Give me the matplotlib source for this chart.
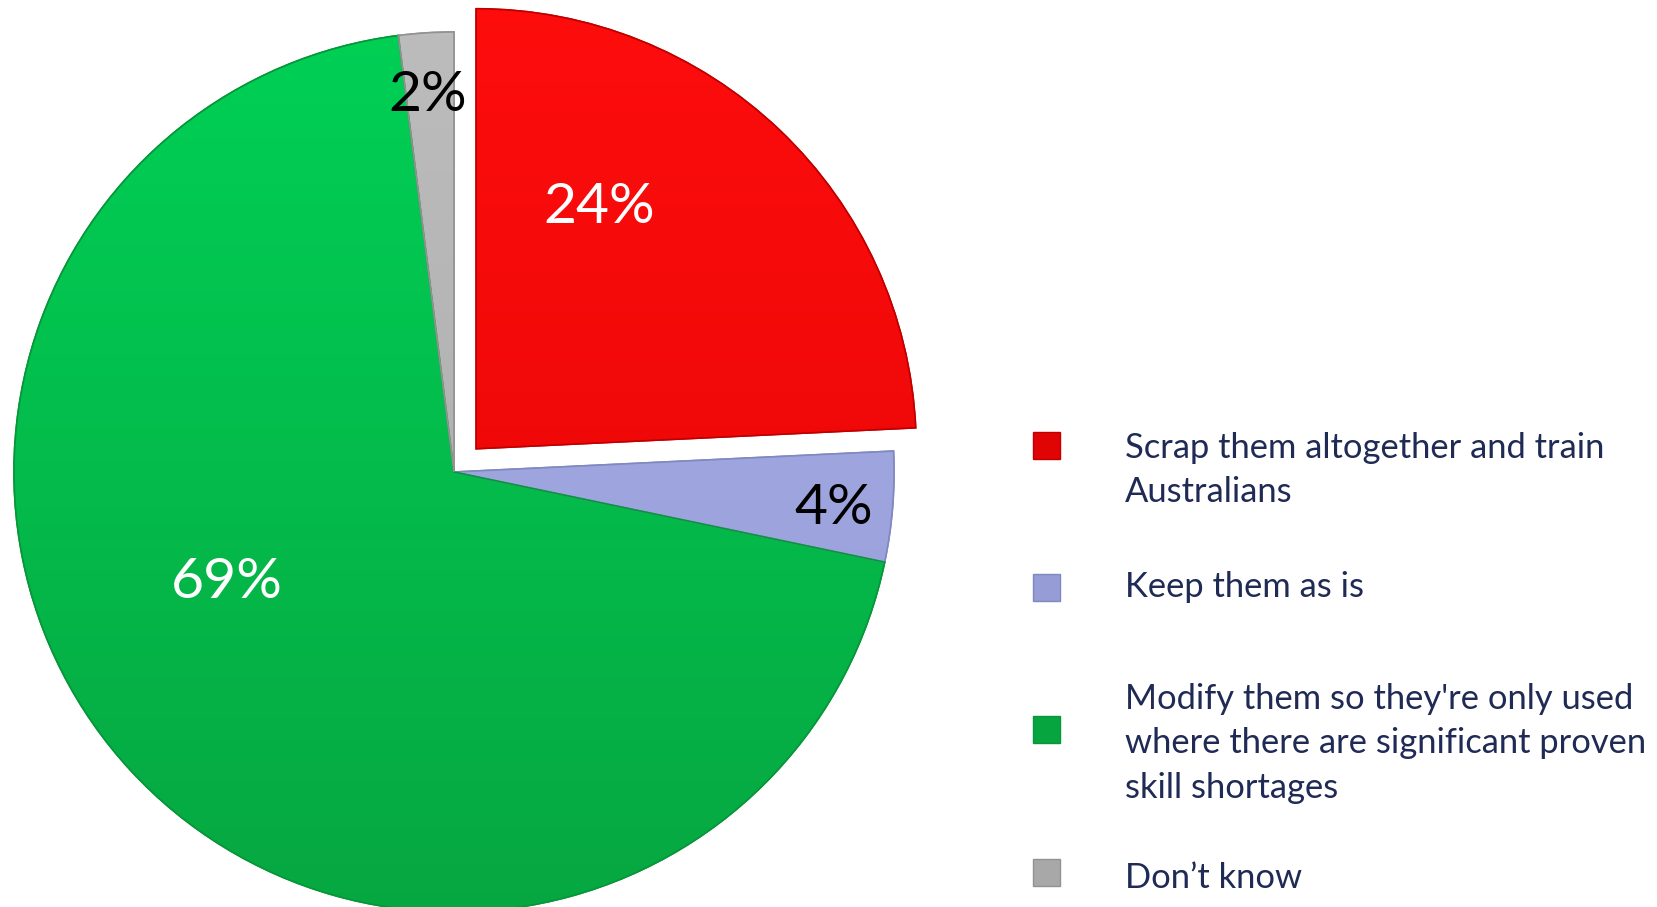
import matplotlib
matplotlib.use("Agg")
import matplotlib.pyplot as plt
import numpy as np
from matplotlib.patches import Rectangle, Wedge
from matplotlib.colors import LinearSegmentedColormap, to_rgb

categories = ["Scrap them altogether and train\nAustralians",
              "Keep them as is",
              "Modify them so they're only used\nwhere there are significant proven\nskill shortages",
              "Don\u2019t know"]
values = [24, 4, 69, 2]
pct_labels = ["24%", "4%", "69%", "2%"]

top_colors = ["#FF0D0D", "#A8AEE6", "#00D256", "#BDBDBD"]
bot_colors = ["#E00404", "#959CD6", "#07A540", "#A8A8A8"]
edge_colors = ["#C00000", "#8088C0", "#07963A", "#929292"]
label_colors = ["white", "black", "white", "black"]
label_pos = [(0.33, 0.60), (0.862, -0.082), (-0.516, -0.252), (-0.06, 0.855)]
explode = [0.073, 0, 0, 0]

W, H = 1657, 907
fig = plt.figure(figsize=(W / 100, H / 100), dpi=100)
R = 440
cx, cy = 454, 907 - 472
half = 1.1 * R
ax = fig.add_axes([(cx - half) / W, (cy - half) / H, 2 * half / W, 2 * half / H])

wedges, _ = ax.pie(values, startangle=90, counterclock=False, explode=explode,
                   colors=top_colors, radius=1.0,
                   wedgeprops=dict(linewidth=1.2))
ax.set_aspect("equal")
ax.axis("off")

for w, tc, bc, ec in zip(wedges, top_colors, bot_colors, edge_colors):
    w.set_edgecolor(ec)
    cmap = LinearSegmentedColormap.from_list("g", [to_rgb(bc), to_rgb(tc)])
    grad = np.linspace(0, 1, 256).reshape(-1, 1)
    im = ax.imshow(grad, extent=(-1.1, 1.1, -1.1, 1.1), origin="lower",
                   cmap=cmap, aspect="auto", zorder=w.get_zorder() + 0.1)
    im.set_clip_path(w)
    ax.add_patch(Wedge(w.center, w.r, w.theta1, w.theta2, facecolor="none",
                       edgecolor=ec, linewidth=1.2, zorder=w.get_zorder() + 0.2))
ax.set_xlim(-1.1, 1.1)
ax.set_ylim(-1.1, 1.1)

for lab, pos, col in zip(pct_labels, label_pos, label_colors):
    ax.text(pos[0], pos[1], lab, ha="center", va="center", color=col,
            fontsize=41, family="Lato", zorder=10)

# legend
sq_y = [445, 587, 729, 872]
txt_y = [445, 584, 696, 875]
line_h = 44.4
sq = 27
for cat, tc, bc, ec, sy, ty in zip(categories, top_colors, bot_colors, edge_colors, sq_y, txt_y):
    fig.add_artist(Rectangle(((1046 - sq / 2) / W, (H - sy - sq / 2) / H), sq / W, sq / H,
                             transform=fig.transFigure, facecolor=bc, edgecolor=ec, linewidth=1))
    for i, line in enumerate(cat.split("\n")):
        fig.text(1125 / W, (H - ty - i * line_h) / H, line, ha="left", va="center_baseline",
                 color="#1F2A55", fontsize=24.8, family="Lato")

fig.savefig("out.png", dpi=100)
